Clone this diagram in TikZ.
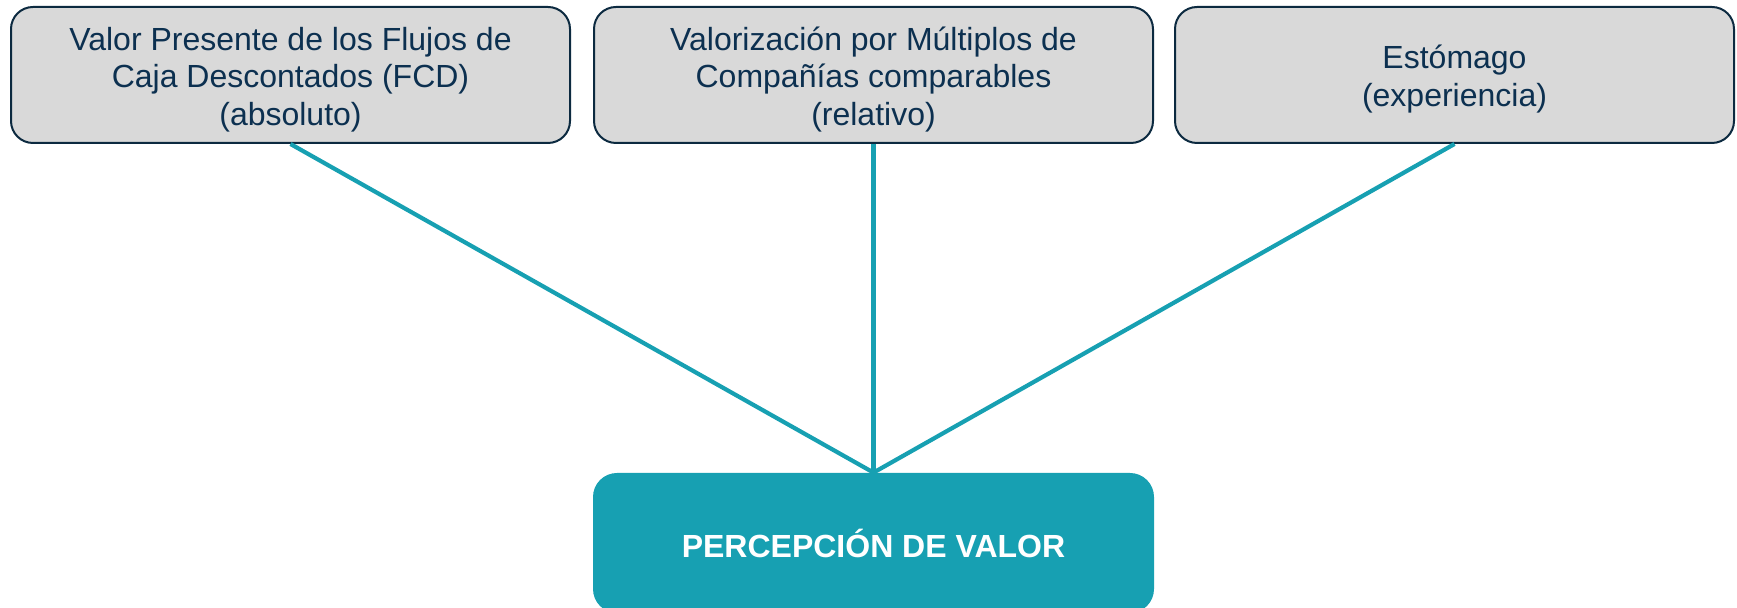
\documentclass[tikz,border=0pt]{standalone}
\usepackage{fontspec}
\setmainfont{Liberation Sans}
\definecolor{boxfill}{HTML}{D9D9D9}
\definecolor{boxline}{HTML}{0C2A40}
\definecolor{boxtext}{HTML}{0C3050}
\definecolor{teal}{HTML}{17A0B2}
\newcommand{\topstrut}{\rule{0pt}{16pt}}
\begin{document}
\begin{tikzpicture}[x=0.5pt,y=-0.5pt,
  topbox/.style={draw=boxline, line width=1pt, fill=boxfill, rounded corners=11pt,
    minimum width=279.5pt, minimum height=68pt, align=center, text=boxtext,
    font=\fontsize{16}{18.8}\selectfont, inner sep=0pt},
  pvbox/.style={fill=teal, rounded corners=12pt, minimum width=280.5pt, minimum height=70pt,
    text=white, font=\fontsize{16}{18.8}\selectfont\bfseries, inner sep=0pt},
  link/.style={draw=teal, line width=2.1pt}]
\useasboundingbox (0,0) rectangle (1737,608);
\node[topbox] (fcd) at (290.5,75) {\topstrut Valor Presente de los Flujos de\\Caja Descontados (FCD)\\(absoluto)};
\node[topbox] (mul) at (873.5,75) {\topstrut Valorización por Múltiplos de\\Compañías comparables\\(relativo)};
\node[topbox] (est) at (1454.5,75) {\topstrut Estómago\\(experiencia)};
\node[pvbox] (pv) at (873.5,543) {PERCEPCIÓN DE VALOR};
\draw[link] (fcd.south) -- (pv.north);
\draw[link] (mul.south) -- (pv.north);
\draw[link] (est.south) -- (pv.north);
\end{tikzpicture}
\end{document}
